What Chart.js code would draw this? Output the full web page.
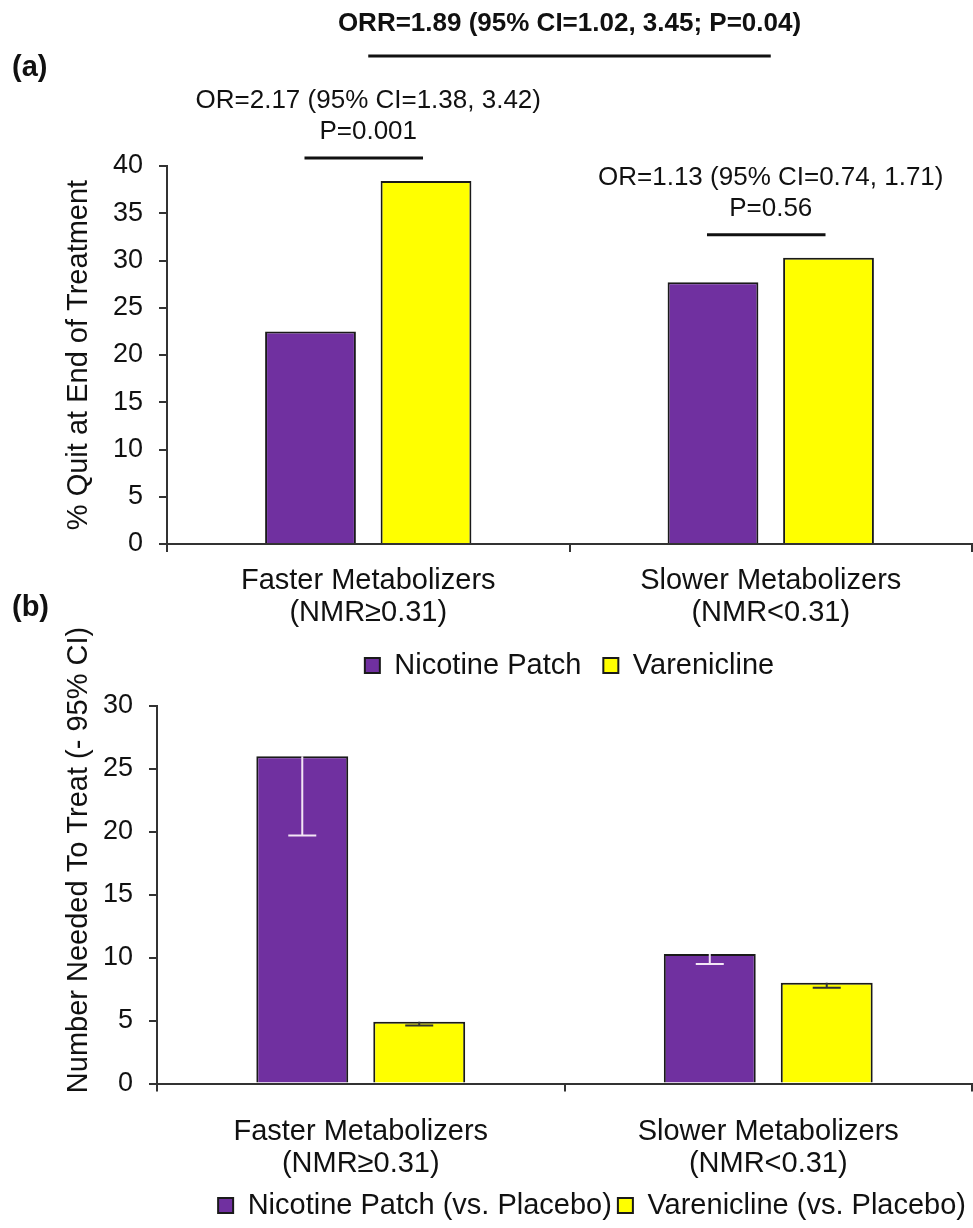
<!DOCTYPE html>
<html>
<head>
<meta charset="utf-8">
<script src="https://cdn.jsdelivr.net/npm/chart.js@4.4.0/dist/chart.umd.min.js"></script>
<style>
html, body { margin: 0; padding: 0; background: #fff; overflow: hidden; }
#wrap { position: relative; width: 973px; height: 1228px; }
canvas { position: absolute; left: 0; }
#chartQuit { top: 0; }
#chartNNT { top: 600px; }
</style>
</head>
<body>
<div id="wrap">
	<canvas id="chartQuit" width="973" height="690"></canvas>
	<canvas id="chartNNT" width="973" height="630"></canvas>
</div>
<script>
// categories
var groups = [['Faster Metabolizers', '(NMR≥0.31)'], ['Slower Metabolizers', '(NMR<0.31)']];

// (a) % quit at end of treatment
var quitPatch = [22.5, 27.7];
var quitVarenicline = [38.4, 30.3];
var quitMax = 40;

// (b) number needed to treat, with lower 95% CI
var nntPatch = [26.0, 10.3];
var nntVarenicline = [4.9, 8.0];
var nntPatchLower = [19.7, 9.5];
var nntVareniclineLower = [4.6, 7.6];
var nntMax = 30;
var tickStep = 5;

// annotation texts
var orTexts = [
	['OR=2.17 (95% CI=1.38, 3.42)', 'P=0.001'],
	['OR=1.13 (95% CI=0.74, 1.71)', 'P=0.56']
];
var orrText = 'ORR=1.89 (95% CI=1.02, 3.45; P=0.04)';

var FONT = '"Liberation Sans", Arial, sans-serif';
var PURPLE = '#7030A0';
var YELLOW = '#FFFF00';
var EDGE = '#1a1a1a';
var AXIS = '#333';

Chart.defaults.font.family = FONT;
Chart.defaults.color = '#111';

function hline(ctx, x1, x2, y) {
	ctx.beginPath();
	ctx.moveTo(x1, y);
	ctx.lineTo(x2, y);
	ctx.stroke();
}

var quitNotes = {
	id: 'quitNotes',
	afterDatasetsDraw(chart) {
		var ctx = chart.ctx;
		var x = chart.scales.x;
		var patch = chart.getDatasetMeta(0).data;
		var vare = chart.getDatasetMeta(1).data;
		ctx.save();
		ctx.fillStyle = '#111';
		ctx.strokeStyle = '#111';
		ctx.lineWidth = 3;
		ctx.textAlign = 'center';
		ctx.textBaseline = 'middle';
		ctx.font = '26px ' + FONT;
		groups.forEach(function (g, i) {
			var x1 = patch[i].x, x2 = vare[i].x;
			var lineY = Math.min(patch[i].y, vare[i].y) - 23;
			hline(ctx, x1 - 6, x2 - 3, lineY);
			var cx = (x1 + x2) / 2;
			ctx.fillText(orTexts[i][0], cx, lineY - 57);
			ctx.fillText(orTexts[i][1], cx, lineY - 26);
		});
		var g1 = x.getPixelForValue(0), g2 = x.getPixelForValue(1);
		hline(ctx, g1, g2, 56);
		ctx.font = 'bold 26px ' + FONT;
		ctx.fillText(orrText, (g1 + g2) / 2, 24);
		ctx.textAlign = 'left';
		ctx.font = 'bold 29px ' + FONT;
		ctx.fillText('(a)', 12, 68);
		ctx.fillText('(b)', 12, 608);
		ctx.restore();
	}
};

var nntExtras = {
	id: 'nntExtras',
	afterDatasetsDraw(chart) {
		var ctx = chart.ctx;
		var y = chart.scales.y;
		var lowers = [nntPatchLower, nntVareniclineLower];
		var colors = ['#f3e6f5', '#333'];
		ctx.save();
		ctx.lineWidth = 2;
		lowers.forEach(function (low, d) {
			ctx.strokeStyle = colors[d];
			chart.getDatasetMeta(d).data.forEach(function (bar, j) {
				var yl = y.getPixelForValue(low[j]);
				ctx.beginPath();
				ctx.moveTo(bar.x, bar.y);
				ctx.lineTo(bar.x, yl);
				ctx.moveTo(bar.x - 14, yl);
				ctx.lineTo(bar.x + 14, yl);
				ctx.stroke();
			});
		});
		ctx.fillStyle = '#111';
		ctx.font = '29px ' + FONT;
		ctx.textAlign = 'center';
		ctx.textBaseline = 'middle';
		ctx.translate(79, 260);
		ctx.rotate(-Math.PI / 2);
		ctx.fillText('Number Needed To Treat (- 95% CI)', 0, 0);
		ctx.restore();
	}
};

function barSet(label, data, color) {
	return {
		label: label,
		data: data,
		backgroundColor: color,
		borderColor: EDGE,
		borderWidth: 2,
		categoryPercentage: 0.574,
		barPercentage: 0.786
	};
}

function scalesFor(max, yWidth, xHeight, xPad, title) {
	return {
		x: {
			grid: { display: true, drawOnChartArea: false, drawTicks: true, tickLength: 8, color: AXIS, lineWidth: 2 },
			border: { color: AXIS, width: 2 },
			ticks: { font: { size: 29, lineHeight: 1.1 }, padding: xPad, maxRotation: 0, color: '#111' },
			afterFit: function (s) { s.height = xHeight; }
		},
		y: {
			min: 0,
			max: max,
			ticks: { stepSize: tickStep, font: { size: 27 }, padding: 16, color: '#111' },
			grid: { drawOnChartArea: false, drawTicks: true, tickLength: 8, color: AXIS, lineWidth: 2 },
			border: { color: AXIS, width: 2 },
			title: title,
			afterFit: function (s) { s.width = yWidth; }
		}
	};
}

var cq = document.getElementById('chartQuit');
var cn = document.getElementById('chartNNT');

var chartQuit = new Chart(cq, {
	type: 'bar',
	data: {
		labels: groups,
		datasets: [
			barSet('Nicotine Patch', quitPatch, PURPLE),
			barSet('Varenicline', quitVarenicline, YELLOW)
		]
	},
	options: {
		responsive: false,
		animation: false,
		layout: { padding: { top: 166, right: 1, bottom: 0, left: 0 } },
		scales: scalesFor(quitMax, 167, 85, 13, {
			display: true,
			text: '% Quit at End of Treatment',
			font: { size: 29 },
			color: '#111',
			padding: { top: 61.6, bottom: 0 }
		}),
		plugins: {
			legend: {
				position: 'bottom',
				fullSize: false,
				align: 'center',
				labels: { font: { size: 29 }, boxWidth: 15, boxHeight: 15, padding: 22, color: '#111' }
			},
			tooltip: { enabled: false }
		}
	},
	plugins: [quitNotes]
});

var chartNNT = new Chart(cn, {
	type: 'bar',
	data: {
		labels: groups,
		datasets: [
			barSet('Nicotine Patch (vs. Placebo)', nntPatch, PURPLE),
			barSet('Varenicline (vs. Placebo)', nntVarenicline, YELLOW)
		]
	},
	options: {
		responsive: false,
		animation: false,
		layout: { padding: { top: 106, right: 1, bottom: 0, left: 0 } },
		scales: scalesFor(nntMax, 157, 101.5, 25, { display: false }),
		plugins: {
			legend: {
				position: 'bottom',
				fullSize: false,
				align: 'end',
				labels: { font: { size: 29 }, boxWidth: 15, boxHeight: 15, padding: 6, color: '#111' }
			},
			tooltip: { enabled: false }
		}
	},
	plugins: [nntExtras]
});
</script>
</body>
</html>
